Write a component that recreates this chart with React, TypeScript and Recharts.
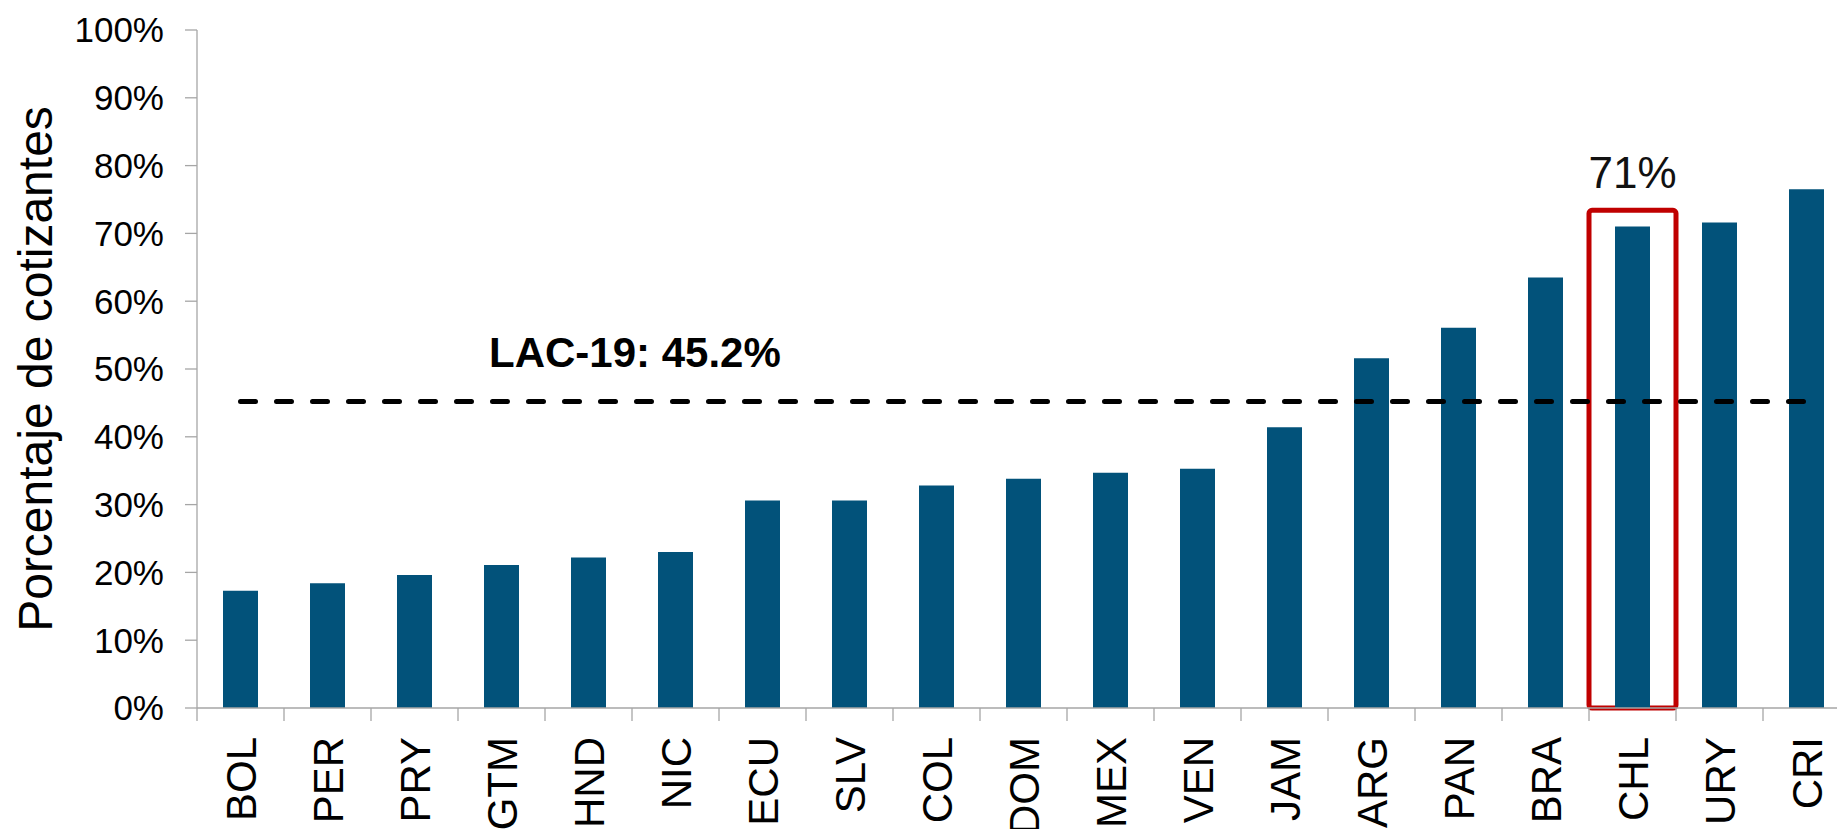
import React from 'react';
import {
  ComposedChart,
  Bar,
  Line,
  XAxis,
  YAxis,
  ReferenceArea,
  ReferenceLine,
} from 'recharts';

// ---- data ----
const categories = [
  'BOL', 'PER', 'PRY', 'GTM', 'HND', 'NIC', 'ECU', 'SLV', 'COL', 'DOM',
  'MEX', 'VEN', 'JAM', 'ARG', 'PAN', 'BRA', 'CHL', 'URY', 'CRI',
];
const coverage = [
  17.3, 18.4, 19.6, 21.1, 22.2, 23.0, 30.6, 30.6, 32.8, 33.8,
  34.7, 35.3, 41.4, 51.6, 56.1, 63.5, 71.0, 71.6, 76.5,
];
const lacAverage = 45.2;
const lacName = 'LAC-19';
const highlightCountry = 'CHL';
const highlightBoxTop = 73.4;
const yTicks = [0, 10, 20, 30, 40, 50, 60, 70, 80, 90, 100];
const yAxisTitle = 'Porcentaje de cotizantes';

const data = categories.map((c, i) => ({
  country: c,
  value: coverage[i],
  avg: lacAverage,
}));
const highlightValue = coverage[categories.indexOf(highlightCountry)];

const FONT = '"Liberation Sans", Arial, Helvetica, sans-serif';
const AXIS_GRAY = '#A6A6A6';
const BAR_BLUE = '#02527A';

function CountryTick(props: any) {
  const { x, y, payload } = props;
  const off = payload && payload.offset ? payload.offset : 43.5;
  return (
    <g>
      <line x1={x - off} x2={x - off} y1={y} y2={y + 13} stroke={AXIS_GRAY} strokeWidth={1.3} />
      <text
        transform={`translate(${x + 15},${y + 29}) rotate(-90)`}
        textAnchor="end"
        fontSize={42}
        fontFamily={FONT}
        fill="#000"
      >
        {payload.value}
      </text>
    </g>
  );
}

function YTitle(props: any) {
  const vb = props.viewBox || { x: 0, y: 22, width: 189, height: 678 };
  return (
    <text
      transform={`translate(${vb.x + 44},${vb.y + vb.height / 2}) rotate(-90)`}
      textAnchor="middle"
      fontSize={48}
      fontFamily={FONT}
      fill="#000"
    >
      {yAxisTitle}
    </text>
  );
}

function AvgLabel(props: any) {
  const vb = props.viewBox || { x: 189, y: 393 };
  return (
    <text
      x={vb.x + 292}
      y={vb.y - 35}
      fontSize={42}
      fontWeight="bold"
      fontFamily={FONT}
      fill="#000"
    >
      {`${lacName}: ${lacAverage.toFixed(1)}%`}
    </text>
  );
}

export default function App() {
  return (
    <div style={{ width: 1837, height: 821, overflow: 'hidden' }}>
      <style>{'body{overflow:hidden}'}</style>
      <ComposedChart
        width={1860}
        height={821}
        data={data}
        margin={{ top: 22, right: 18, bottom: 0, left: 0 }}
      >
        <XAxis
          dataKey="country"
          interval={0}
          height={121}
          tickSize={0}
          tickMargin={0}
          tickLine={false}
          axisLine={{ stroke: AXIS_GRAY, strokeWidth: 1.3 }}
          tick={<CountryTick />}
        />
        <YAxis
          width={189}
          domain={[0, 100]}
          ticks={yTicks}
          interval={0}
          tickFormatter={(v: number) => `${v}%`}
          tickSize={12}
          tickMargin={21}
          tickLine={{ stroke: AXIS_GRAY, strokeWidth: 1.3 }}
          axisLine={{ stroke: AXIS_GRAY, strokeWidth: 1.3 }}
          tick={{ fontSize: 35, fontFamily: FONT, fill: '#000' }}
          label={{ content: (p: any) => <YTitle {...p} /> }}
        />
        <Bar dataKey="value" fill={BAR_BLUE} barSize={35} isAnimationActive={false} />
        <Line
          dataKey="avg"
          stroke="#000"
          strokeWidth={5}
          strokeDasharray="15 21"
          strokeLinecap="round"
          dot={false}
          activeDot={false}
          isAnimationActive={false}
        />
        <ReferenceLine
          y={lacAverage}
          stroke="none"
          label={{ content: (p: any) => <AvgLabel {...p} /> }}
        />
        <ReferenceArea
          x1={highlightCountry}
          x2={highlightCountry}
          y1={0}
          y2={highlightBoxTop}
          fill="none"
          fillOpacity={0}
          stroke="#C00000"
          strokeWidth={5}
          strokeOpacity={1}
          radius={3}
          ifOverflow="visible"
          label={{
            value: `${Math.round(highlightValue)}%`,
            position: 'top',
            offset: 22,
            fontSize: 44,
            fontFamily: FONT,
            fill: '#111',
          }}
        />
      </ComposedChart>
    </div>
  );
}
